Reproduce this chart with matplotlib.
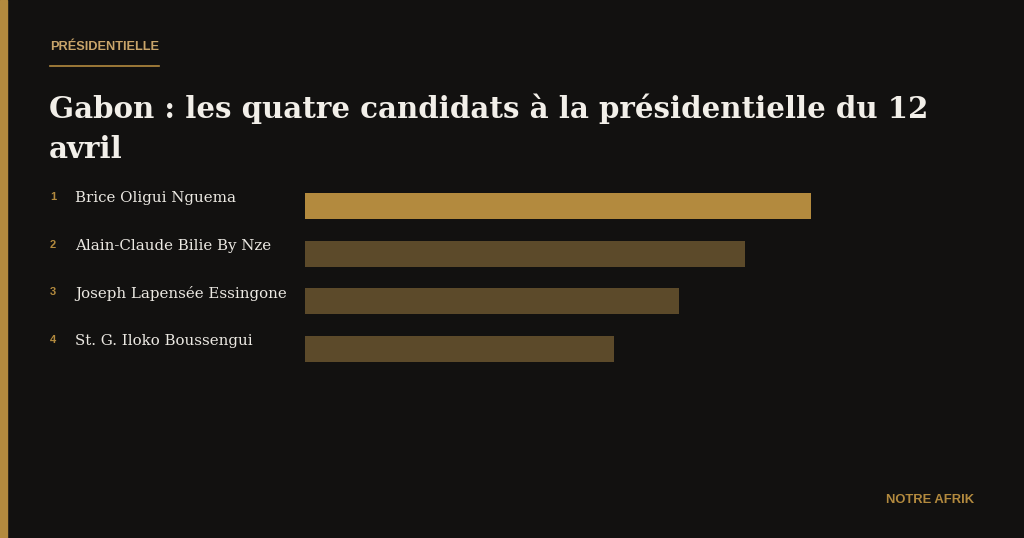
import matplotlib
import matplotlib.pyplot as plt

# données
candidats = ["Brice Oligui Nguema", "Alain-Claude Bilie By Nze",
             "Joseph Lapensée Essingone", "St. G. Iloko Boussengui"]
rangs = ["1", "2", "3", "4"]
valeurs = [100, 87, 74, 61]

FOND = "#121110"
OR = "#b38a3e"
OR_SOMBRE = "#5c4a2a"
OR_CLAIR = "#c9a56a"

W, H = 1024, 538
fig = plt.figure(figsize=(W / 100, H / 100), dpi=100, facecolor=FOND)


def px(x, y):
    # coordonnées pixel (origine en haut à gauche) -> coordonnées figure
    return x / W, 1 - y / H


# bande dorée à gauche
fig.patches.append(matplotlib.patches.Rectangle((0, 0), 7 / W, 1, transform=fig.transFigure,
                                                color=OR, zorder=5))

# sur-titre + filet
fig.text(*px(50, 47), "PRÉSIDENTIELLE", color=OR_CLAIR, fontsize=9.2,
         fontweight="bold", family="Liberation Sans", va="center", ha="left")
fig.add_artist(matplotlib.lines.Line2D([50 / W, 159 / W], [1 - 65.5 / H, 1 - 65.5 / H],
                                       color=OR, linewidth=1.2))

# titre
titre = ["Gabon : les quatre candidats à la présidentielle du 12", "avril"]
for i, ligne in enumerate(titre):
    fig.text(*px(49, 118 + 40 * i), ligne, color="#f2efe9", fontsize=21.1,
             fontweight="bold", family="DejaVu Serif", va="baseline", ha="left")

# barres
centre0, pas = 206, 47.7
ax = fig.add_axes([305 / W, 1 - (centre0 + 3 * pas + pas / 2) / H,
                   (811 - 305) / W, 4 * pas / H])
ax.set_facecolor(FOND)
couleurs = [OR] + [OR_SOMBRE] * (len(valeurs) - 1)
ax.barh(range(len(valeurs)), valeurs, height=26 / pas, color=couleurs)
ax.set_xlim(0, 100)
ax.set_ylim(len(valeurs) - 0.5, -0.5)
ax.axis("off")

for i, (r, nom) in enumerate(zip(rangs, candidats)):
    y = centre0 + pas * i
    fig.text(*px(50, y - 9), r, color=OR, fontsize=8, fontweight="bold",
             family="Liberation Sans", va="center", ha="left")
    fig.text(*px(75, y - 8), nom, color="#ece9e3", fontsize=10.8,
             family="DejaVu Serif", va="center", ha="left")

fig.text(*px(974, 500), "NOTRE AFRIK", color=OR, fontsize=9.4, fontweight="bold",
         family="Liberation Sans", va="center", ha="right")

fig.savefig("out.png", dpi=100, facecolor=FOND)
